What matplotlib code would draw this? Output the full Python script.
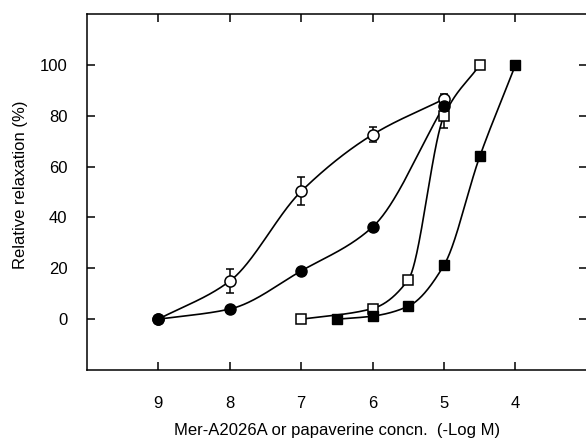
import numpy as np
import matplotlib
matplotlib.use("Agg")
import matplotlib.pyplot as plt

plt.rcParams['font.family'] = ['Liberation Sans', 'DejaVu Sans']

# -log M concentrations and relaxation (%)
x_open_circ = [9, 8, 7, 6, 5]
y_open_circ = [0, 15, 50.3, 72.6, 86.6]
e_open_circ = [0, 4.7, 5.5, 2.8, 2.0]

x_fill_circ = [9, 8, 7, 6, 5]
y_fill_circ = [0, 4, 19, 36.3, 84]

x_open_sq = [7, 6, 5.5, 5, 4.5]
y_open_sq = [0, 4.2, 15.6, 80, 100]
e_open_sq = [0, 0, 0, 4.7, 0]

x_fill_sq = [6.5, 6, 5.5, 5, 4.5, 4]
y_fill_sq = [0, 1.2, 5.1, 21.3, 64, 100]

x_ticks = [9, 8, 7, 6, 5, 4]
y_ticks = [0, 20, 40, 60, 80, 100]


def pchip(x, y, n=200):
    # monotone cubic hermite, x increasing
    x = np.asarray(x, float)
    y = np.asarray(y, float)
    h = np.diff(x)
    d = np.diff(y) / h
    m = np.zeros_like(y)
    for k in range(1, len(x) - 1):
        if d[k - 1] * d[k] > 0:
            w1 = 2 * h[k] + h[k - 1]
            w2 = h[k] + 2 * h[k - 1]
            m[k] = (w1 + w2) / (w1 / d[k - 1] + w2 / d[k])
    m[0] = d[0]
    m[-1] = d[-1]
    xs, ys = [], []
    for k in range(len(h)):
        t = np.linspace(0, 1, n)
        h00 = 2 * t**3 - 3 * t**2 + 1
        h10 = t**3 - 2 * t**2 + t
        h01 = -2 * t**3 + 3 * t**2
        h11 = t**3 - t**2
        xs.append(x[k] + t * h[k])
        ys.append(h00 * y[k] + h10 * h[k] * m[k] + h01 * y[k + 1] + h11 * h[k] * m[k + 1])
    return np.concatenate(xs), np.concatenate(ys)


def curve(ax, x, y):
    x = np.asarray(x, float)[::-1]
    y = np.asarray(y, float)[::-1]
    xs, ys = pchip(x, y)
    ax.plot(xs, ys, color='black', lw=1.2, zorder=2)


fig = plt.figure(figsize=(5.86, 4.40), dpi=100)
ax = fig.add_axes([0.1485, 0.159, 0.853, 0.809])

for xx, yy in [(x_open_circ, y_open_circ), (x_fill_circ, y_fill_circ),
               (x_open_sq, y_open_sq), (x_fill_sq, y_fill_sq)]:
    curve(ax, xx, yy)

ax.errorbar(x_open_circ, y_open_circ, yerr=e_open_circ, fmt='none', ecolor='black',
            elinewidth=1.1, capsize=3, capthick=1.1, zorder=3)
ax.errorbar(x_open_sq, y_open_sq, yerr=e_open_sq, fmt='none', ecolor='black',
            elinewidth=1.1, capsize=3, capthick=1.1, zorder=3)

ax.plot(x_open_circ, y_open_circ, 'o', ms=8, mfc='white', mec='black', mew=1.1, zorder=4)
ax.plot(x_fill_circ, y_fill_circ, 'o', ms=8, mfc='black', mec='black', zorder=5)
ax.plot(x_open_sq, y_open_sq, 's', ms=7.5, mfc='white', mec='black', mew=1.1, zorder=4)
ax.plot(x_fill_sq, y_fill_sq, 's', ms=7.5, mfc='black', mec='black', zorder=5)

ax.set_xlim(10, 3)
ax.set_ylim(-20, 120)
ax.set_xticks(x_ticks)
ax.set_yticks(y_ticks)
ax.tick_params(axis='both', direction='in', length=6, width=1.1, labelsize=12)
ax.tick_params(axis='x', top=True, pad=19)
ax.tick_params(axis='y', right=True, pad=14)
ax.spines['right'].set_visible(False)
for s in ['left', 'top', 'bottom']:
    ax.spines[s].set_linewidth(1.1)

ax.set_xlabel('Mer-A2026A or papaverine concn.  (-Log M)', fontsize=12, labelpad=8.5)
ax.set_ylabel('Relative relaxation (%)', fontsize=12)
ax.yaxis.set_label_coords(-0.118, 0.52)

fig.savefig('out.png', dpi=100)
